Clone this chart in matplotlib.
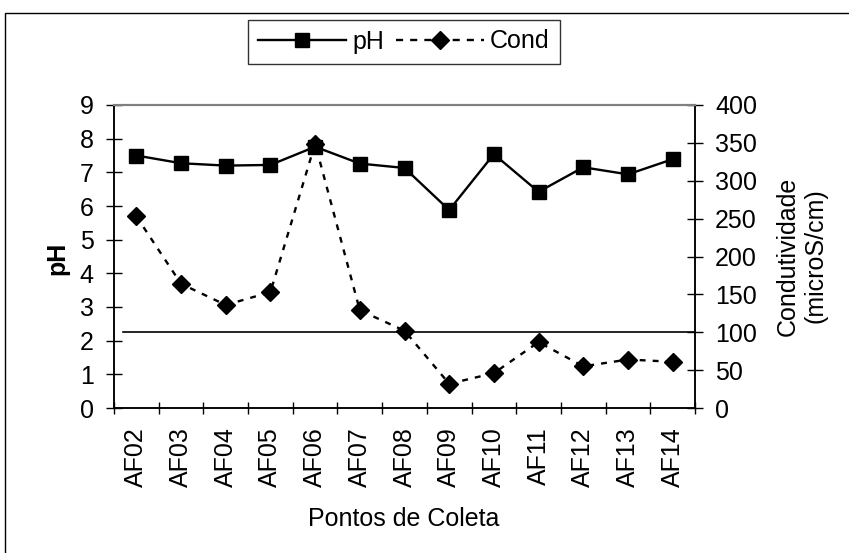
import numpy as np
import matplotlib.pyplot as plt
from matplotlib.lines import Line2D
from matplotlib.patches import Rectangle

plt.rcParams['font.family'] = ['Liberation Sans', 'DejaVu Sans']

# data
pontos = ["AF02", "AF03", "AF04", "AF05", "AF06", "AF07", "AF08",
          "AF09", "AF10", "AF11", "AF12", "AF13", "AF14"]
ph = [7.5, 7.27, 7.2, 7.22, 7.76, 7.26, 7.13, 5.88, 7.54, 6.42, 7.15, 6.94, 7.39]
cond = [253, 164, 136, 153, 349, 129, 102, 32, 46, 87, 55, 64, 61]
limite_cond = 100  # reference line (microS/cm)

W, H = 849, 553
fs = 18
fig = plt.figure(figsize=(W/100, H/100), dpi=100)
ax = fig.add_axes([114/W, 1-408/H, (695-114)/W, (408-105)/H])
ax2 = ax.twinx()

x = np.arange(len(pontos))
dash = (0, (2.5, 3))
ax.plot(x, ph, "-", color="k", lw=1.7, marker="s", ms=9.5, zorder=3)
ax2.plot(x, cond, color="k", lw=1.7, ls=dash, marker="D", ms=9.5, zorder=3)
ax2.plot([-0.3, 12.5], [limite_cond, limite_cond], color="k", lw=1.2)

ax.set_xlim(-0.5, len(pontos)-0.5)
ax.set_ylim(0, 9)
ax2.set_ylim(0, 400)
ax.set_yticks(range(0, 10))
ax2.set_yticks(range(0, 401, 50))

ax.set_xticks(x)
ax.set_xticklabels(pontos, rotation=90)
ax.set_xticks(np.arange(-0.5, len(pontos)), minor=True)
ax.tick_params(axis="x", which="major", length=0, pad=14, labelsize=fs)
ax.tick_params(axis="x", which="minor", length=9, width=1, direction="inout")
ax.tick_params(axis="y", length=11, width=1, direction="inout", labelsize=fs, pad=9)
ax2.tick_params(axis="y", length=11, width=1, direction="inout", labelsize=fs, pad=9)

for a in (ax, ax2):
    a.spines["top"].set_color("#808080")
    a.spines["top"].set_linewidth(1.5)
    for s in ("left", "right", "bottom"):
        a.spines[s].set_linewidth(1.1)

fig.text(404/W, 1-526/H, "Pontos de Coleta", fontsize=fs, ha="center", va="baseline")
fig.text(57/W, 1-258/H, "pH", fontsize=fs, fontweight="bold", rotation=90,
         ha="center", va="center")
fig.text(802/W, 1-256/H, "Condutividade\n(microS/cm)", fontsize=fs, rotation=90,
         ha="center", va="center", multialignment="center")

handles = [Line2D([], [], color="k", lw=1.7, marker="s", ms=9.5),
           Line2D([], [], color="k", lw=1.7, ls=(0, (3, 3)), marker="D", ms=9.5)]
leg = fig.legend(handles, ["pH", "Cond"], loc="center", bbox_to_anchor=(404/W, 1-41.5/H),
                 ncol=2, fontsize=fs, frameon=True, fancybox=False, edgecolor="k",
                 handlelength=3.5, handletextpad=0.25, columnspacing=0.5,
                 borderpad=0.4, borderaxespad=0)
leg.get_frame().set_linewidth(1.0)

fig.patches.append(Rectangle((5/W, -0.05), 1.0, 1.05-13/H, transform=fig.transFigure,
                             fill=False, edgecolor="k", lw=1.0))

fig.savefig("out.png", dpi=100)
